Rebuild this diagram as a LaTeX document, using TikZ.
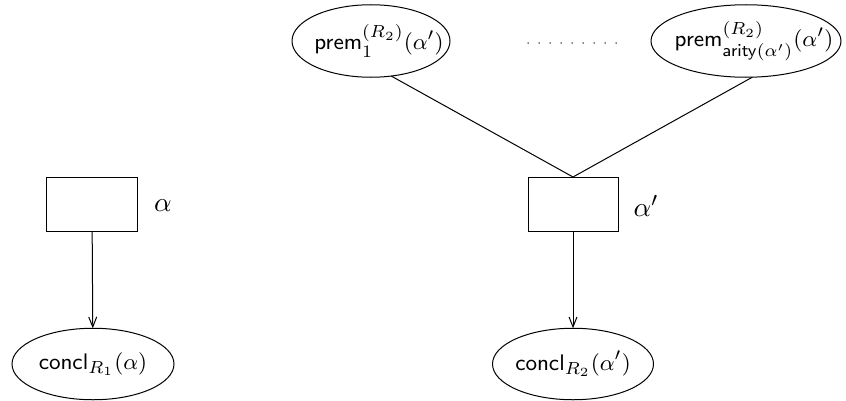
\documentclass[tikz,border=0pt]{standalone}
\usetikzlibrary{shapes.geometric,arrows.meta}
\begin{document}
\begin{tikzpicture}[x=0.4pt,y=-0.4pt,line width=0.4pt,
  ell/.style={draw,ellipse,inner sep=0pt,outer sep=0pt},
  rulebox/.style={draw,rectangle,minimum width=36pt,minimum height=21.6pt,inner sep=0pt,outer sep=0pt},
  lab/.style={inner sep=0pt,font=\fontsize{10.8pt}{13pt}\selectfont},
  txt/.style={inner sep=0pt,font=\fontsize{9.5pt}{11.5pt}\selectfont},
  arr/.style={-{Straight Barb[length=4pt,width=3.2pt]}}]
\useasboundingbox (0,0) rectangle (846,400);
% left part
\node[rulebox] (b1) at (92,204) {};
\node[lab] (a1) at (163,206) {$\alpha$};
\node[ell,minimum width=64.8pt,minimum height=28.6pt] (c1) at (93,364) {};
\node[txt] (t1) at (c1) {$\mathsf{concl}_{R_1}(\alpha)$};
\draw[arr] (b1) -- (c1);
% right part
\node[rulebox] (b2) at (573,204) {};
\node[lab] (a2) at (646,206) {$\alpha'$};
\node[ell,minimum width=64.4pt,minimum height=28.6pt] (c2) at (573,364) {};
\node[txt] (t2) at (c2) {$\mathsf{concl}_{R_2}(\alpha')$};
\draw[arr] (b2) -- (c2);
% premises
\node[ell,minimum width=63.2pt,minimum height=29pt] (p1) at (371,41) {};
\node[txt] (t3) at ([xshift=3.2pt]p1.center) {$\mathsf{prem}_1^{(R_2)}(\alpha')$};
\node[ell,minimum width=76pt,minimum height=29pt] (p2) at (746,41) {};
\node[txt] (t4) at ([xshift=3.2pt]p2.center) {$\mathsf{prem}_{\mathsf{arity}(\alpha')}^{(R_2)}(\alpha')$};
\foreach \i in {0,...,8} \fill (528+11*\i,43) circle (0.3pt);
\draw (p1.-60) -- (b2.north);
\draw (p2.-80) -- (b2.north);
\end{tikzpicture}
\end{document}
